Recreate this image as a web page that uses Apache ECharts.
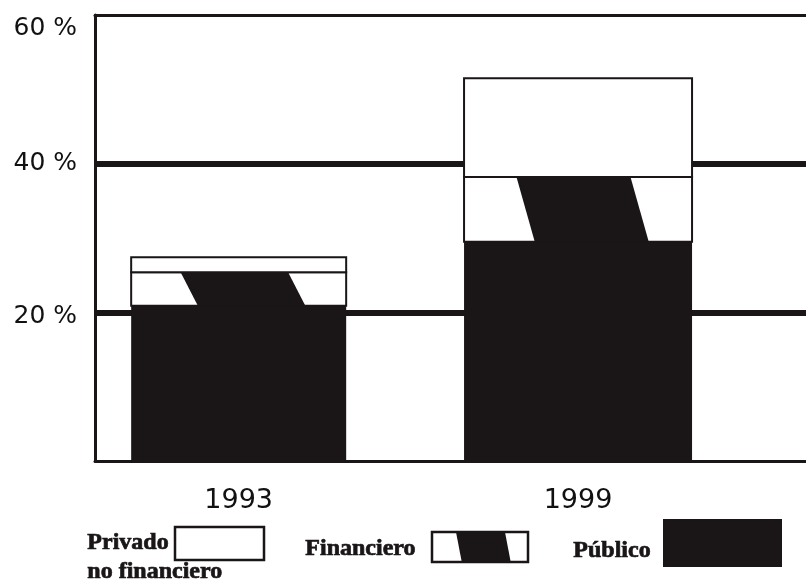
<!DOCTYPE html>
<html>
<head>
<meta charset="utf-8">
<script src="https://cdn.jsdelivr.net/npm/echarts@6/dist/echarts.min.js"></script>
<style>
  html, body { margin: 0; padding: 0; background: #ffffff; }
  #chart { width: 806px; height: 585px; }
</style>
</head>
<body>
<div id="chart"></div>
<script>
// Years shown on the horizontal axis
const years = [1993, 1999];
// Share of each sector (%), stacked bottom to top
const publico = [20.9, 29.5];
const financiero = [4.5, 8.7];
const privado = [2.0, 13.3];
// Vertical axis ticks (%)
const yTicks = [0, 20, 40, 60];

const INK = '#1a1617';
const BAR_WIDTH = [215, 228];
// Slanted black band inside the "Financiero" block (fractions of bar width)
const BAND = { tl: 0.23, tr: 0.73, bl: 0.31, br: 0.81 };

// Build [year, start, end, index] rows for each stacked segment
const layers = [publico, financiero, privado];
const rows = layers.map(() => []);
years.forEach((yr, i) => {
  let base = 0;
  layers.forEach((arr, k) => {
    rows[k].push([yr, base, base + arr[i], i]);
    base += arr[i];
  });
});

function barBox(api) {
  const i = api.value(3);
  const w = BAR_WIDTH[i];
  const p0 = api.coord([api.value(0), api.value(1)]);
  const p1 = api.coord([api.value(0), api.value(2)]);
  return { x: p0[0] - w / 2, y: p1[1], w: w, h: p0[1] - p1[1] };
}

function renderPublico(params, api) {
  const b = barBox(api);
  return {
    type: 'rect',
    shape: { x: b.x, y: b.y, width: b.w, height: b.h },
    style: { fill: INK }
  };
}

function renderFinanciero(params, api) {
  const b = barBox(api);
  return {
    type: 'group',
    children: [
      {
        type: 'rect',
        shape: { x: b.x, y: b.y, width: b.w, height: b.h },
        style: { fill: '#ffffff', stroke: INK, lineWidth: 2 }
      },
      {
        type: 'polygon',
        shape: {
          points: [
            [b.x + BAND.tl * b.w, b.y],
            [b.x + BAND.tr * b.w, b.y],
            [b.x + BAND.br * b.w, b.y + b.h],
            [b.x + BAND.bl * b.w, b.y + b.h]
          ]
        },
        style: { fill: INK }
      }
    ]
  };
}

function renderPrivado(params, api) {
  const b = barBox(api);
  return {
    type: 'rect',
    shape: { x: b.x, y: b.y, width: b.w, height: b.h },
    style: { fill: '#ffffff', stroke: INK, lineWidth: 2 }
  };
}

const X_MIN = 1990.46, X_MAX = 2003.03;
const serifBold = 'bold 24px "Liberation Serif", "DejaVu Serif", serif';
const legendText = (text, left, top) => ({
  type: 'text', left: left, top: top,
  style: { text: text, font: serifBold, fill: INK, stroke: INK, lineWidth: 0.7 }
});
const sansLabel = { fontFamily: '"DejaVu Sans", sans-serif', fontSize: 25, color: '#111111' };

const chart = echarts.init(document.getElementById('chart'), null, { renderer: 'canvas' });

chart.setOption({
  backgroundColor: '#ffffff',
  animation: false,
  grid: { left: 95, right: 0, top: 15, bottom: 124 },
  xAxis: [
    {
      type: 'value',
      position: 'bottom',
      min: X_MIN,
      max: X_MAX,
      axisLine: { show: true, lineStyle: { color: INK, width: 3 } },
      axisTick: { show: false },
      splitLine: { show: false },
      axisLabel: {
        customValues: years,
        formatter: v => String(v),
        fontFamily: '"DejaVu Sans", sans-serif',
        fontSize: 27,
        color: '#111111',
        margin: 26
      }
    },
    {
      type: 'value',
      position: 'top',
      min: X_MIN,
      max: X_MAX,
      axisLine: { show: true, lineStyle: { color: INK, width: 3 } },
      axisTick: { show: false },
      axisLabel: { show: false },
      splitLine: { show: false }
    }
  ],
  yAxis: {
    type: 'value',
    min: yTicks[0],
    max: yTicks[yTicks.length - 1],
    interval: 20,
    axisLine: { show: true, lineStyle: { color: INK, width: 3 } },
    axisTick: { show: false },
    splitLine: {
      show: true,
      showMinLine: false,
      showMaxLine: false,
      lineStyle: { color: INK, width: 6 }
    },
    axisLabel: {
      showMinLabel: false,
      margin: 18,
      formatter: v => v === 60 ? '{lo|' + v + ' %}' : (v === 20 ? '{lo2|' + v + ' %}' : '{n|' + v + ' %}'),
      rich: {
        n: sansLabel,
        lo: Object.assign({ padding: [26, 0, 0, 0] }, sansLabel),
        lo2: Object.assign({ padding: [8, 0, 0, 0] }, sansLabel)
      }
    }
  },
  series: [
    { name: 'Público', type: 'custom', renderItem: renderPublico, data: rows[0], encode: { x: 0, y: [1, 2] }, z: 3 },
    { name: 'Financiero', type: 'custom', renderItem: renderFinanciero, data: rows[1], encode: { x: 0, y: [1, 2] }, z: 4 },
    { name: 'Privado no financiero', type: 'custom', renderItem: renderPrivado, data: rows[2], encode: { x: 0, y: [1, 2] }, z: 5 }
  ],
  graphic: [
    // Privado no financiero
    legendText('Privado', 87, 530),
    legendText('no financiero', 87, 559),
    { type: 'rect', shape: { x: 175, y: 527, width: 89, height: 33 }, style: { fill: '#ffffff', stroke: INK, lineWidth: 2.5 } },
    // Financiero
    legendText('Financiero', 305, 536),
    { type: 'rect', shape: { x: 432, y: 532, width: 96, height: 30 }, style: { fill: '#ffffff', stroke: INK, lineWidth: 2.5 } },
    {
      type: 'polygon',
      shape: { points: [[432 + 0.25 * 96, 532], [432 + 0.76 * 96, 532], [432 + 0.82 * 96, 562], [432 + 0.31 * 96, 562]] },
      style: { fill: INK }
    },
    // Público
    legendText('Público', 573, 538),
    { type: 'rect', shape: { x: 663, y: 519, width: 119, height: 48 }, style: { fill: INK } }
  ]
});
</script>
</body>
</html>
